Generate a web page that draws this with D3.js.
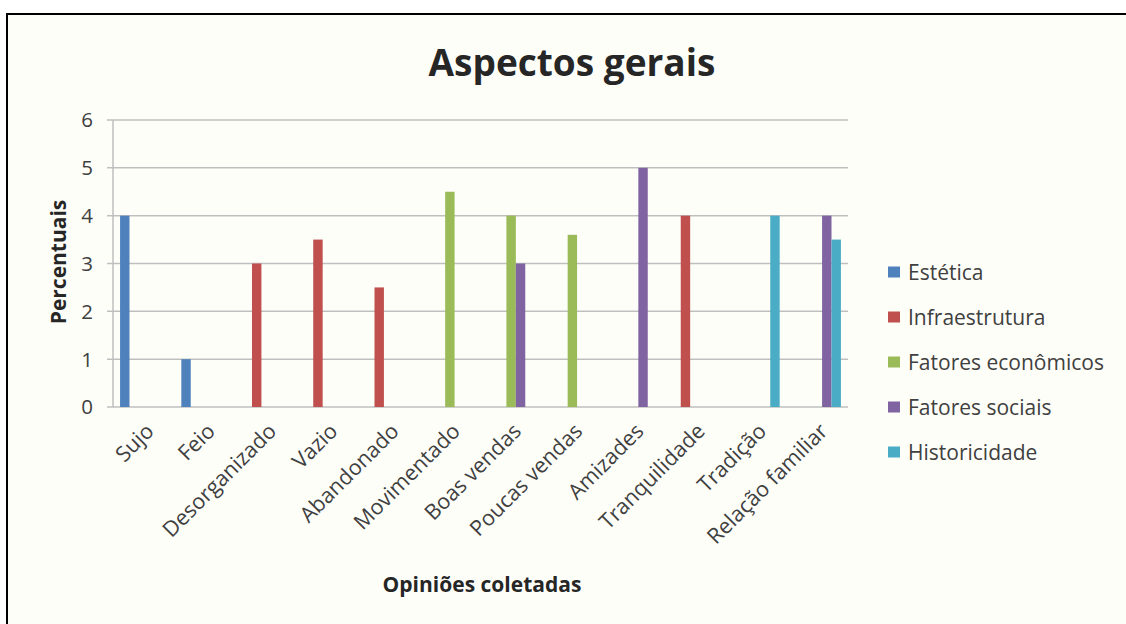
<!DOCTYPE html>
<html><head><meta charset="utf-8">
<script src="https://cdn.jsdelivr.net/npm/d3@7"></script>
<style>
html,body{margin:0;padding:0;background:#fff;}
svg{display:block;}
text{font-family:"Open Sans","Noto Sans",sans-serif;}
</style></head>
<body>
<svg id="chart" width="1126" height="624"></svg>
<script>
const categories = ["Sujo","Feio","Desorganizado","Vazio","Abandonado","Movimentado","Boas vendas","Poucas vendas","Amizades","Tranquilidade","Tradição","Relação familiar"];
const seriesNames = ["Estética","Infraestrutura","Fatores econômicos","Fatores sociais","Historicidade"];
const estetica        = [4, 1, 0, 0, 0, 0, 0, 0, 0, 0, 0, 0];
const infraestrutura  = [0, 0, 3, 3.5, 2.5, 0, 0, 0, 0, 4, 0, 0];
const fatoresEcon     = [0, 0, 0, 0, 0, 4.5, 4, 3.6, 0, 0, 0, 0];
const fatoresSociais  = [0, 0, 0, 0, 0, 0, 3, 0, 5, 0, 0, 4];
const historicidade   = [0, 0, 0, 0, 0, 0, 0, 0, 0, 0, 4, 3.5];
const yTicks = [0,1,2,3,4,5,6];
const colors = ["#4F81BD","#C0504D","#9BBB59","#8064A2","#4BACC6"];

const seriesValues = [estetica, infraestrutura, fatoresEcon, fatoresSociais, historicidade];

const svg = d3.select("#chart");
// frame
svg.append("rect").attr("x",7).attr("y",14).attr("width",1130).attr("height",640)
  .attr("fill","#FEFEF9").attr("stroke","#000").attr("stroke-width",2);

const pLeft = 113, pRight = 848, pTop = 120, pBottom = 407;
const x = d3.scaleBand().domain(categories).range([pLeft,pRight]).paddingInner(0).paddingOuter(0);
const inner = d3.scaleBand().domain(seriesNames).range([0,x.bandwidth()]).paddingInner(0).paddingOuter(0.75);
const y = d3.scaleLinear().domain([0,6]).range([pBottom,pTop]);

// gridlines
svg.append("g").selectAll("line").data(yTicks).join("line")
  .attr("x1",pLeft-6).attr("x2",pRight).attr("y1",d=>y(d)).attr("y2",d=>y(d))
  .attr("stroke","#BFBFBF").attr("stroke-width",1.5);
// y axis line
svg.append("line").attr("x1",pLeft).attr("x2",pLeft).attr("y1",pTop).attr("y2",pBottom)
  .attr("stroke","#BFBFBF").attr("stroke-width",1.5);

// y tick labels
svg.append("g").selectAll("text").data(yTicks).join("text")
  .attr("x",pLeft-20).attr("y",d=>y(d)).attr("dy","0.36em").attr("text-anchor","end")
  .attr("font-size",20.5).attr("fill","#404040").text(d=>d);

// bars
const data = [];
seriesValues.forEach((vals,si)=>vals.forEach((v,ci)=>{ if(v>0) data.push({s:seriesNames[si],c:categories[ci],v,color:colors[si]}); }));
svg.append("g").selectAll("rect").data(data).join("rect")
  .attr("x",d=>x(d.c)+inner(d.s)).attr("width",inner.bandwidth())
  .attr("y",d=>y(d.v)).attr("height",d=>y(0)-y(d.v)).attr("fill",d=>d.color);

// x labels
svg.append("g").selectAll("text").data(categories).join("text")
  .attr("transform",d=>`translate(${x(d)+x.bandwidth()/2+6},${pBottom+20}) rotate(-45)`)
  .attr("text-anchor","end").attr("dy","0.36em")
  .attr("font-size",21.5).attr("fill","#404040").text(d=>d);

// title
svg.append("text").attr("x",572).attr("y",76).attr("text-anchor","middle")
  .attr("font-size",37).attr("font-weight","bold").attr("fill","#262626").text("Aspectos gerais");
// axis titles
svg.append("text").attr("transform",`translate(66,262) rotate(-90)`).attr("text-anchor","middle")
  .attr("font-size",21).attr("font-weight","bold").attr("fill","#262626").text("Percentuais");
svg.append("text").attr("x",482).attr("y",592).attr("text-anchor","middle")
  .attr("font-size",21).attr("font-weight","bold").attr("fill","#262626").text("Opiniões coletadas");

// legend
const lg = svg.append("g").selectAll("g").data(seriesNames).join("g")
  .attr("transform",(d,i)=>`translate(888,${272+i*45})`);
lg.append("rect").attr("x",0).attr("y",-5.5).attr("width",12).attr("height",11).attr("fill",(d,i)=>colors[i]);
lg.append("text").attr("x",20).attr("dy","0.36em").attr("font-size",21).attr("fill","#404040").text(d=>d);
</script>
</body></html>
